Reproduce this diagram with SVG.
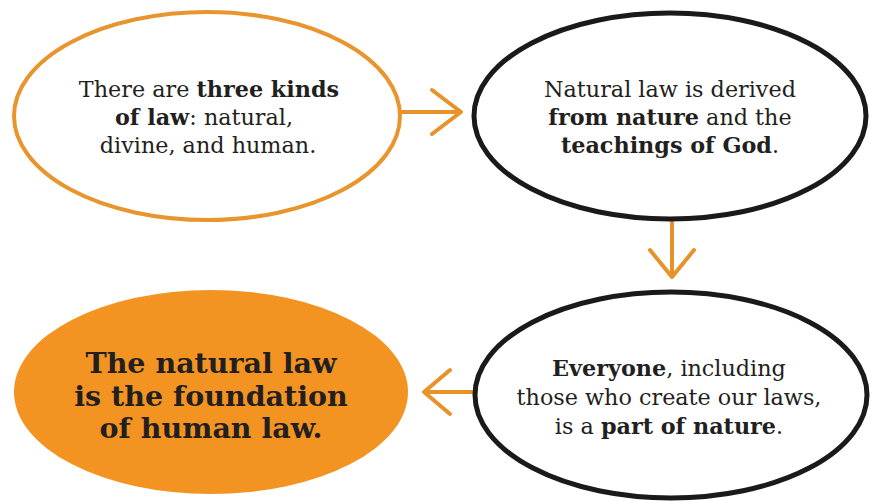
<svg xmlns="http://www.w3.org/2000/svg" width="871" height="501" viewBox="0 0 871 501">
<style>
.t{font-family:"DejaVu Serif","Liberation Serif",serif;font-size:22.3px;fill:#231f20;text-anchor:middle}
.b{font-weight:bold}
.big{font-family:"DejaVu Serif","Liberation Serif",serif;font-size:28.5px;font-weight:bold;fill:#231f20;text-anchor:middle}
.blk{fill:#fff;stroke:#1a1a1a;stroke-width:5}
.arr{fill:none;stroke:#e8922a;stroke-width:4;stroke-linecap:round;stroke-linejoin:round}
</style>
<rect width="871" height="501" fill="#fff"/>
<g id="connectors">
<path class="arr" d="M402 112 H460 M432 90 L461 112 L432 134"/>
<path class="arr" d="M672 222 V276 M650 250 L672 277 L694 250"/>
<path class="arr" d="M476 392 H425 M450 370 L424 392 L450 414"/>
</g>
<g id="n1">
<ellipse cx="207" cy="116" rx="193" ry="104" fill="#fff" stroke="#e8952e" stroke-width="4"/>
<text class="t" x="209" y="97">There are <tspan class="b">three kinds</tspan></text>
<text class="t" x="204" y="125"><tspan class="b">of law</tspan>: natural,</text>
<text class="t" x="208" y="153">divine, and human.</text>
</g>
<g id="n2">
<ellipse class="blk" cx="670" cy="116" rx="196" ry="103"/>
<text class="t" x="670" y="97">Natural law is derived</text>
<text class="t" x="670" y="125"><tspan class="b">from nature</tspan> and the</text>
<text class="t" x="670" y="153"><tspan class="b">teachings of God</tspan>.</text>
</g>
<g id="n3">
<ellipse class="blk" cx="671" cy="395" rx="196" ry="103"/>
<text class="t" x="669" y="376"><tspan class="b">Everyone</tspan>, including</text>
<text class="t" x="669" y="405">those who create our laws,</text>
<text class="t" x="669" y="434">is a <tspan class="b">part of nature</tspan>.</text>
</g>
<g id="n4">
<ellipse cx="211" cy="392" rx="197" ry="102" fill="#f39322"/>
<text class="big" x="211" y="373">The natural law</text>
<text class="big" x="211" y="406">is the foundation</text>
<text class="big" x="211" y="438">of human law.</text>
</g>
</svg>
